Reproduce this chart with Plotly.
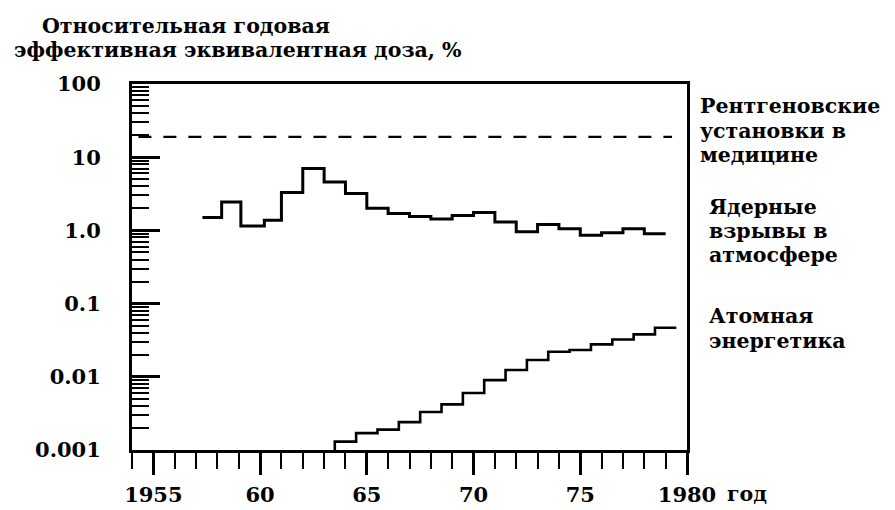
import plotly.graph_objects as go

# ---- data ----
# Ядерные взрывы: step start years and values (%), last step ends at nuclear_end
nuclear_start = [1957.3, 1958.2, 1959.1, 1960.2, 1961.0, 1962.0, 1963.0, 1964.0,
                 1965.0, 1966.0, 1967.0, 1968.0, 1969.0, 1970.0, 1971.0, 1972.0,
                 1973.0, 1974.0, 1975.0, 1976.0, 1977.0, 1978.0]
nuclear_values = [1.5, 2.45, 1.15, 1.38, 3.3, 7.0, 4.6, 3.2,
                  2.0, 1.7, 1.55, 1.43, 1.6, 1.75, 1.3, 0.96,
                  1.2, 1.05, 0.86, 0.93, 1.05, 0.9]
nuclear_end = 1979.0

# Атомная энергетика: yearly values, each year step centred on the year
atom_years = list(range(1964, 1980))
atom_values = [0.0013, 0.0017, 0.0019, 0.0024, 0.0033, 0.0042, 0.006, 0.009,
               0.0124, 0.017, 0.022, 0.0232, 0.0277, 0.0324, 0.038, 0.0467]

# Рентгеновские установки в медицине: constant level
medical_years = [1954.3, 1979.3]
medical_values = [19, 19]

x_tick_vals = [1955, 1960, 1965, 1970, 1975, 1980]
x_tick_text = ["1955", "60", "65", "70", "75", "1980"]
y_tick_vals = [0.001, 0.01, 0.1, 1, 10, 100]
y_tick_text = ["0.001", "0.01", "0.1", "1.0", "10", "100"]

X_RANGE = [1954, 1980]
Y_RANGE_LOG = [-3, 2]

TICK_FONT = dict(family="DejaVu Serif", size=21, color="black", weight="bold")
FONT = dict(family="DejaVu Serif", size=20.5, color="black", weight="bold")

fig = go.Figure()

# medical dashed line
fig.add_trace(go.Scatter(x=medical_years, y=medical_values, mode="lines",
                         line=dict(color="black", width=2.2, dash="13px,12px"),
                         showlegend=False, hoverinfo="skip"))

# nuclear step line
nx = nuclear_start + [nuclear_end]
ny = nuclear_values + [nuclear_values[-1]]
fig.add_trace(go.Scatter(x=nx, y=ny, mode="lines", line_shape="hv",
                         line=dict(color="black", width=3),
                         showlegend=False, hoverinfo="skip"))

# atomic energy step line (starting from the axis floor)
ax_edges = [y - 0.5 for y in atom_years] + [atom_years[-1] + 0.5]
floor = 10 ** Y_RANGE_LOG[0]
axx = [ax_edges[0]] + ax_edges
axy = [floor] + atom_values + [atom_values[-1]]
fig.add_trace(go.Scatter(x=axx, y=axy, mode="lines", line_shape="hv",
                         line=dict(color="black", width=2.6),
                         showlegend=False, hoverinfo="skip"))

fig.update_xaxes(range=X_RANGE, showline=True, linewidth=3, linecolor="black",
                 mirror=True, showgrid=False, zeroline=False,
                 tickmode="array", tickvals=x_tick_vals, ticktext=x_tick_text,
                 ticks="outside", ticklen=22, tickwidth=2.5, tickcolor="black",
                 ticklabelstandoff=2,
                 minor=dict(ticks="outside", dtick=1, tick0=1954, ticklen=16,
                            tickwidth=2.2, tickcolor="black", showgrid=False),
                 tickfont=TICK_FONT)

fig.update_yaxes(type="log", range=Y_RANGE_LOG, showline=True, linewidth=3,
                 linecolor="black", mirror=True, showgrid=False, zeroline=False,
                 tickmode="array", tickvals=y_tick_vals, ticktext=y_tick_text,
                 ticks="inside", ticklen=28, tickwidth=2.5, tickcolor="black",
                 ticklabelstandoff=24,
                 minor=dict(ticks="inside", dtick="D1", ticklen=17,
                            tickwidth=2, tickcolor="black", showgrid=False),
                 tickfont=TICK_FONT)

annotations = []
def lab(text, x, y, xanchor="left"):
    annotations.append(dict(text=text, xref="paper", yref="paper", x=x, y=y,
                            xanchor=xanchor, yanchor="middle", showarrow=False,
                            font=FONT))

# title
lab("Относительная годовая", -0.166, 1.158)
lab("эффективная эквивалентная доза, %", -0.216, 1.093)
# right labels
lab("Рентгеновские", 1.020, 0.940)
lab("установки в", 1.020, 0.872)
lab("медицине", 1.020, 0.806)
lab("Ядерные", 1.036, 0.664)
lab("взрывы в", 1.036, 0.598)
lab("атмосфере", 1.036, 0.533)
lab("Атомная", 1.036, 0.366)
lab("энергетика", 1.036, 0.299)
# unit after 1980
lab("год", 1.068, -0.119)

# the page body has an 8px default margin, so the figure is 8px smaller
fig.update_layout(width=887, height=502, plot_bgcolor="white", paper_bgcolor="white",
                  margin=dict(l=124, r=208, t=76, b=60, autoexpand=False),
                  annotations=annotations, showlegend=False)

fig.write_html("out.html")
